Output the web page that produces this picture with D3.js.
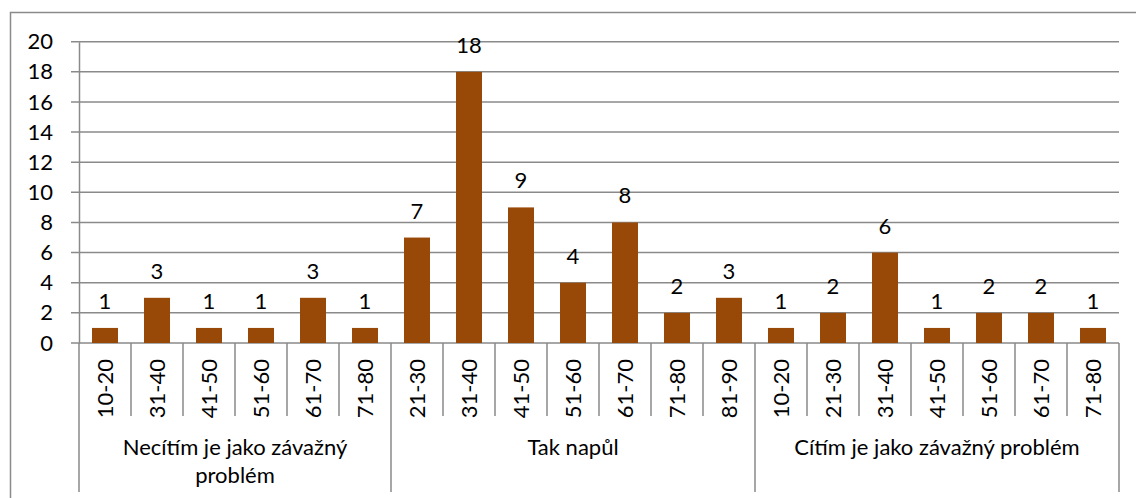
<!DOCTYPE html>
<html>
<head>
<meta charset="utf-8">
<script src="https://cdn.jsdelivr.net/npm/d3@7"></script>
<style>
  html, body { margin: 0; padding: 0; background: #fff; }
  svg { display: block; font-family: Lato, "Open Sans", sans-serif; }
</style>
</head>
<body>
<svg id="chart" width="1136" height="498"></svg>
<script>
const categories = ["10-20","31-40","41-50","51-60","61-70","71-80",
                    "21-30","31-40","41-50","51-60","61-70","71-80","81-90",
                    "10-20","21-30","31-40","41-50","51-60","61-70","71-80"];
const values = [1,3,1,1,3,1, 7,18,9,4,8,2,3, 1,2,6,1,2,2,1];
const groupNames = [["Necítím je jako závažný","problém"], ["Tak napůl"], ["Cítím je jako závažný problém"]];
const groupCounts = [6, 7, 7];
const yTicks = [0,2,4,6,8,10,12,14,16,18,20];

const svg = d3.select("#chart");
const fontSize = 22;
const barColor = "#984807";
const lineColor = "#8a8a8a";

const plotLeft = 79, plotRight = 1119, plotTop = 41.7, plotBottom = 343;

// outer border
svg.append("rect").attr("x", 10.5).attr("y", 12.5).attr("width", 1140).attr("height", 500)
  .attr("fill", "none").attr("stroke", lineColor).attr("stroke-width", 1.5);

const idx = categories.map((d, i) => i);
const x = d3.scaleBand().domain(idx).range([plotLeft, plotRight]).paddingInner(0.5).paddingOuter(0.25);
const y = d3.scaleLinear().domain([0, 20]).range([plotBottom, plotTop]);

// gridlines
svg.append("g").selectAll("line").data(yTicks).join("line")
  .attr("x1", plotLeft - 8).attr("x2", plotRight).attr("y1", d => y(d)).attr("y2", d => y(d))
  .attr("stroke", lineColor).attr("stroke-width", 1.5);

// y axis
const yAxis = d3.axisLeft(y).tickValues(yTicks).tickSize(0).tickPadding(0);
const ya = svg.append("g").attr("transform", `translate(${plotLeft},0)`).call(yAxis);
ya.select(".domain").attr("stroke", lineColor).attr("stroke-width", 1.5);
ya.selectAll("text").attr("x", -26).attr("font-size", fontSize).attr("fill", "#000")
  .attr("font-family", "Lato, sans-serif");

// bars
svg.append("g").selectAll("rect").data(values).join("rect")
  .attr("x", (d, i) => x(i)).attr("width", x.bandwidth())
  .attr("y", d => y(d)).attr("height", d => y(0) - y(d))
  .attr("fill", barColor);

// data labels
svg.append("g").selectAll("text").data(values).join("text")
  .attr("x", (d, i) => x(i) + x.bandwidth() / 2)
  .attr("y", d => y(d) - 19)
  .attr("text-anchor", "middle").attr("font-size", fontSize).attr("fill", "#000")
  .text(d => d);

// x axis: category separators
const step = x.step();
const groupStarts = [0];
groupCounts.forEach((c, i) => groupStarts.push(groupStarts[i] + c));
svg.append("g").selectAll("line").data(d3.range(categories.length + 1)).join("line")
  .attr("x1", i => plotLeft + i * step).attr("x2", i => plotLeft + i * step)
  .attr("y1", plotBottom).attr("y2", i => groupStarts.includes(i) ? 492 : 416)
  .attr("stroke", lineColor).attr("stroke-width", 1.5);

// category labels
svg.append("g").selectAll("text").data(categories).join("text")
  .attr("transform", (d, i) => `translate(${x(i) + x.bandwidth() / 2},359) rotate(-90)`)
  .attr("text-anchor", "end").attr("dy", "0.36em")
  .attr("font-size", fontSize).attr("fill", "#000")
  .text(d => d);

// group labels
const gl = svg.append("g").selectAll("text").data(groupNames).join("text")
  .attr("y", 455).attr("text-anchor", "middle").attr("font-size", fontSize).attr("fill", "#000");
gl.each(function(lines, i) {
  const t = d3.select(this);
  const cx = plotLeft + (groupStarts[i] + groupCounts[i] / 2) * step;
  lines.forEach((ln, j) => {
    t.append("tspan").attr("x", cx).attr("dy", j === 0 ? 0 : 28).text(ln);
  });
});
</script>
</body>
</html>
